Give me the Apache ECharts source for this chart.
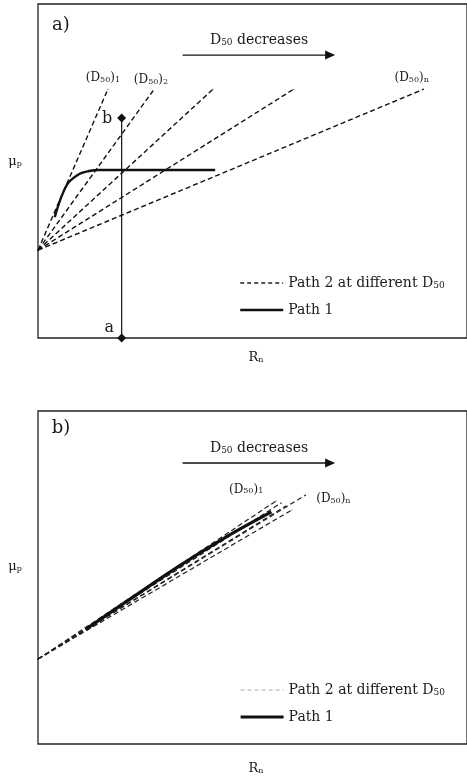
<!DOCTYPE html>
<html>
<head>
<meta charset="utf-8">
<script src="https://cdn.jsdelivr.net/npm/echarts@6/dist/echarts.min.js"></script>
<style>html,body{margin:0;padding:0;background:#fff;}#c{width:467px;height:784px;}</style>
</head>
<body>
<div id="c"></div>
<script>
// ---------- data (arbitrary units, x 0-100, y 0-100 per panel) ----------
const panelAOrigin = [0, 26.3];
const panelAEnds = [[16.3, 74.5], [26.8, 74.0], [40.8, 74.5], [59.6, 74.5], [89.9, 74.5]];
const panelALabels = ['1', '2', '', '', 'n'];
const panelAPath1 = [[3.9, 36.2], [6.7, 45.8], [9.6, 49.1], [11.9, 50.0], [14.2, 50.3], [41.3, 50.3]];
const panelAMarker = [[19.5, 0], [19.5, 65.9]];
const panelAMarkerNames = ['a', 'b'];
const panelAArrow = [[33.7, 84.7], [68.1, 84.7]];

const panelBOrigin = [0, 25.5];
const panelBEnds = [[55.5, 73.0], [56.7, 72.4], [57.8, 71.5], [59.2, 70.3], [62.4, 74.8]];
const panelBLabels = ['1', '', '', '', 'n'];
const panelBPath1 = [[11.2, 34.5], [21.1, 43.2], [32.6, 53.2], [44.0, 62.3], [54.4, 69.7]];
const panelBArrow = [[33.7, 84.4], [68.1, 84.4]];

const P2 = 'Path 2 at different D50';
const P1 = 'Path 1';

// ---------- styling ----------
const FONT = 'DejaVu Serif';
const INK = '#1a1a1a';
const labelRich = {
  m: { fontFamily: FONT, fontSize: 12, color: INK, verticalAlign: 'middle', lineHeight: 16 },
  s: { fontFamily: FONT, fontSize: 8, color: INK, verticalAlign: 'middle', lineHeight: 16, padding: [4, 0, 0, 0] }
};
function d50Label(idx) { return '{m|(D}{s|50}{m|)}{s|' + idx + '}'; }

const grids = [
  { left: 38, top: 4, width: 436, height: 334 },
  { left: 38, top: 411, width: 436, height: 333 }
].map(g => Object.assign(g, { show: true, borderColor: '#222', borderWidth: 1.3, backgroundColor: 'transparent' }));

const xAxes = [0, 1].map(i => ({ type: 'value', gridIndex: i, min: 0, max: 100, show: false }));
const yAxes = [0, 1].map(i => ({ type: 'value', gridIndex: i, min: 0, max: 100, show: false }));

const series = [];

function addDashed(panel, origin, ends, labels, color, width, labelCfg) {
  ends.forEach((e, i) => {
    const last = { value: e };
    if (labels[i]) {
      last.label = Object.assign({ show: true, formatter: d50Label(labels[i]), rich: labelRich }, labelCfg[i]);
    }
    series.push({
      type: 'line', name: P2, xAxisIndex: panel, yAxisIndex: panel,
      data: [origin, last], symbol: 'circle', symbolSize: 1,
      itemStyle: { color: color }, label: { show: false },
      lineStyle: { color: color, width: width, type: [5, 3] },
      clip: false, z: 2
    });
  });
}

addDashed(0, panelAOrigin, panelAEnds, panelALabels, '#111', 1.4, [
  { position: 'top', distance: 3, offset: [-5, 0] },
  { position: 'top', distance: 3, offset: [-2, 1] },
  {}, {},
  { position: 'top', distance: 3, offset: [-12, 0] }
]);
addDashed(1, panelBOrigin, panelBEnds, panelBLabels, '#222', 1.2, [
  { position: 'top', distance: 3, offset: [-30, 0] },
  {}, {}, {},
  { position: 'right', distance: 10, offset: [0, 4] }
]);

series.push({
  type: 'line', name: P1, xAxisIndex: 0, yAxisIndex: 0, data: panelAPath1,
  smooth: 0.35, symbol: 'none', lineStyle: { color: '#111', width: 2.4 }, itemStyle: { color: '#111' }, z: 3
});
series.push({
  type: 'line', name: P1, xAxisIndex: 1, yAxisIndex: 1, data: panelBPath1,
  smooth: 0.3, symbol: 'none', lineStyle: { color: '#111', width: 3.2 }, itemStyle: { color: '#111' }, z: 3
});

// a-b vertical marker
series.push({
  type: 'line', name: 'ab', xAxisIndex: 0, yAxisIndex: 0, clip: false, z: 4,
  symbol: 'diamond', symbolSize: 9,
  lineStyle: { color: '#111', width: 1.2 }, itemStyle: { color: '#111' },
  data: panelAMarker.map((p, i) => ({
    value: p,
    label: {
      show: true, formatter: panelAMarkerNames[i], position: 'left',
      distance: 5, offset: i === 0 ? [2, -10] : [0, 1],
      fontFamily: FONT, fontSize: 16, color: INK
    }
  }))
});

// arrows "D50 decreases"
[[0, panelAArrow], [1, panelBArrow]].forEach(([p, arr]) => {
  series.push({
    type: 'line', name: 'arrow' + p, xAxisIndex: p, yAxisIndex: p, clip: false, z: 4,
    lineStyle: { color: '#111', width: 1.4 }, itemStyle: { color: '#111' },
    data: [
      { value: arr[0], symbol: 'none' },
      { value: arr[1], symbol: 'triangle', symbolSize: [9, 10], symbolRotate: -90 }
    ]
  });
});

const legendRich = {
  t: { fontFamily: FONT, fontSize: 14, color: INK, verticalAlign: 'middle', lineHeight: 18 },
  s: { fontFamily: FONT, fontSize: 9, color: INK, verticalAlign: 'middle', lineHeight: 18, padding: [5, 0, 0, 0] }
};
function legendFmt(name) {
  if (name === P2) return '{t|Path 2 at different D}{s|50}';
  return '{t|' + name + '}';
}
function makeLegend(top, dashColor, dashWidth, solidWidth) {
  return {
    orient: 'vertical', left: 234, top: top, itemWidth: 43, itemHeight: 14, itemGap: 13,
    selectedMode: false, formatter: legendFmt,
    textStyle: { fontFamily: FONT, fontSize: 14, color: INK, rich: legendRich },
    data: [
      { name: P2, lineStyle: { color: dashColor, width: dashWidth, type: [4, 3] }, itemStyle: { opacity: 0 } },
      { name: P1, lineStyle: { color: '#111', width: solidWidth }, itemStyle: { opacity: 0 } }
    ]
  };
}

const textRich = {
  m: { fontFamily: FONT, fontSize: 14, fill: INK, verticalAlign: 'middle', lineHeight: 18 },
  s: { fontFamily: FONT, fontSize: 9, fill: INK, verticalAlign: 'middle', lineHeight: 18, padding: [5, 0, 0, 0] },
  big: { fontFamily: FONT, fontSize: 18, fill: INK },
  ax: { fontFamily: FONT, fontSize: 13, fill: INK, verticalAlign: 'middle', lineHeight: 16 },
  axs: { fontFamily: FONT, fontSize: 8, fill: INK, verticalAlign: 'middle', lineHeight: 16, padding: [4, 0, 0, 0] }
};
function gText(x, y, text, align) {
  return { type: 'text', x: x, y: y, silent: true,
    style: { text: text, rich: textRich, align: align || 'center', verticalAlign: 'middle', fill: INK, fontFamily: FONT } };
}

const graphic = [
  gText(61, 25, '{big|a)}'),
  gText(61, 428, '{big|b)}'),
  gText(259, 40, '{m|D}{s|50}{m| decreases}'),
  gText(259, 448, '{m|D}{s|50}{m| decreases}'),
  gText(15, 162, '{ax|μ}{axs|p}'),
  gText(15, 567, '{ax|μ}{axs|p}'),
  gText(256, 358, '{ax|R}{axs|n}'),
  gText(256, 769, '{ax|R}{axs|n}')
];

const chart = echarts.init(document.getElementById('c'), null, { renderer: 'canvas' });
chart.setOption({
  animation: false,
  backgroundColor: '#fff',
  grid: grids,
  xAxis: xAxes,
  yAxis: yAxes,
  legend: [makeLegend(271, '#222', 1.3, 2.4), makeLegend(678, '#aaa', 1, 3.2)],
  graphic: graphic,
  series: series
});
</script>
</body>
</html>
